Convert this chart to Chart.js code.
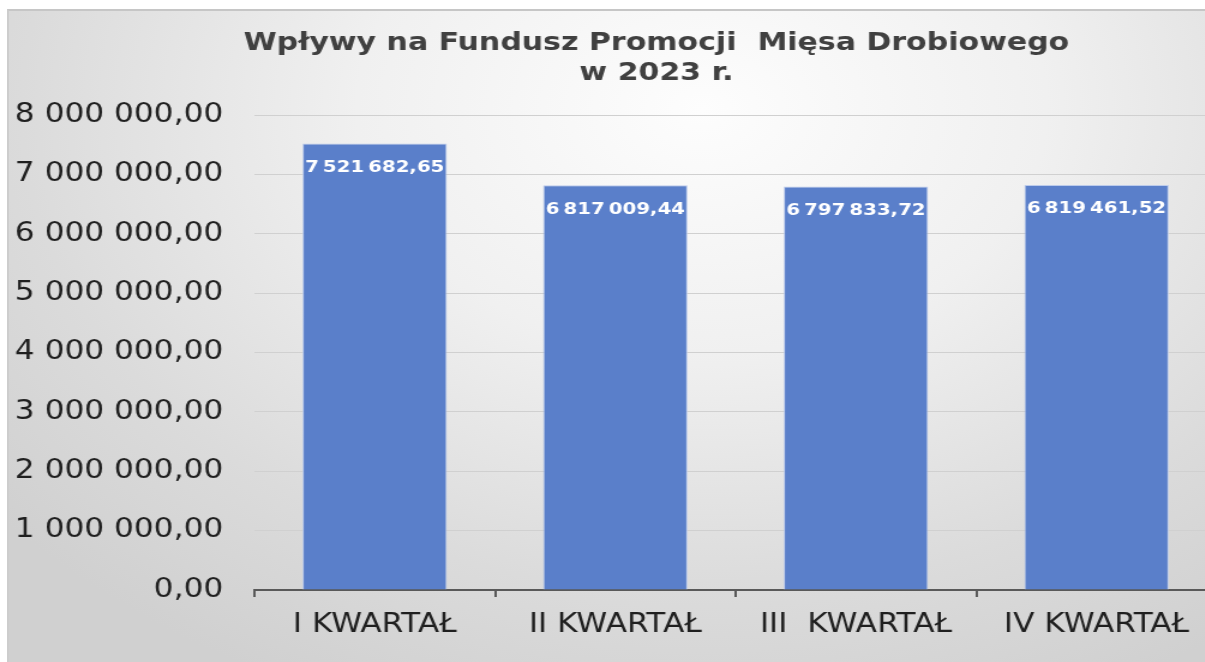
<!DOCTYPE html>
<html>
<head>
<meta charset="utf-8">
<script src="https://cdn.jsdelivr.net/npm/chart.js@4/dist/chart.umd.min.js"></script>
<style>
  html, body { margin: 0; padding: 0; width: 1205px; height: 662px; overflow: hidden; background: #ffffff; }
  #bg {
    position: absolute; left: 7px; top: 9px; width: 1260px; height: 700px;
    border-top: 2px solid #c6c6c6; border-left: 2px solid #cdcdcd;
    background: radial-gradient(ellipse 72% 92% at 55% 14%, #fdfdfd 0%, #f0f0f0 38%, #dbdbdb 75%, #d0d0d0 100%);
  }
  #wrap {
    position: absolute; left: 0; top: 0; width: 1094px; height: 662px;
    transform: scaleX(1.2); transform-origin: 0 0;
  }
</style>
</head>
<body>
<div id="bg"></div>
<div id="wrap"><canvas id="c" width="1094" height="662"></canvas></div>
<script>
const categories = ["I KWARTAŁ", "II KWARTAŁ", "III  KWARTAŁ", "IV KWARTAŁ"];
const values = [7521682.65, 6817009.44, 6797833.72, 6819461.52];
const titleLines = ["Wpływy na Fundusz Promocji  Mięsa Drobiowego", "w 2023 r."];
const yTicks = [0, 1000000, 2000000, 3000000, 4000000, 5000000, 6000000, 7000000, 8000000];

function fmt(v, sep) {
  const parts = v.toFixed(2).split('.');
  return parts[0].replace(/\B(?=(\d{3})+(?!\d))/g, sep || ' ') + ',' + parts[1];
}

const valueLabels = {
  id: 'valueLabels',
  afterDatasetsDraw(chart) {
    const ctx = chart.ctx;
    const meta = chart.getDatasetMeta(0);
    const data = chart.data.datasets[0].data;
    ctx.save();
    ctx.fillStyle = '#ffffff';
    ctx.font = 'bold 16.5px "DejaVu Sans"';
    ctx.textAlign = 'center';
    ctx.textBaseline = 'middle';
    meta.data.forEach((bar, i) => {
      ctx.fillText(fmt(data[i], '\u202F'), bar.x, bar.y + 24);
    });
    ctx.restore();
  }
};

new Chart(document.getElementById('c'), {
  type: 'bar',
  data: {
    labels: categories,
    datasets: [{
      data: values,
      yAxisID: 'y',
      backgroundColor: '#5a7fca',
      borderColor: '#bccbeb',
      borderWidth: 1,
      barPercentage: 0.6,
      categoryPercentage: 1.0
    }]
  },
  options: {
    responsive: false,
    animation: false,
    layout: { padding: 0 },
    plugins: {
      legend: { display: false },
      tooltip: { enabled: false },
      title: {
        display: true,
        text: titleLines,
        color: '#404040',
        font: { family: '"DejaVu Sans"', size: 25, weight: 'bold', lineHeight: 1.2 },
        padding: { top: 28, bottom: 27 }
      }
    },
    scales: {
      x: {
        grid: { display: true, drawOnChartArea: false, drawTicks: true, tickLength: 7, color: '#595959', lineWidth: 2, offset: true },
        border: { display: true, color: '#595959', width: 2 },
        ticks: { color: '#1f1f1f', padding: 13, font: { family: '"DejaVu Sans"', size: 26 }, maxRotation: 0, autoSkip: false },
        afterFit(scale) { scale.height = 72; }
      },
      y: {
        position: 'left',
        min: 0,
        max: 8000000,
        afterBuildTicks(scale) { scale.ticks = yTicks.map(v => ({ value: v })); },
        grid: { color: '#d0d0d0', lineWidth: 1, drawTicks: false },
        border: { display: false },
        ticks: {
          color: '#1f1f1f',
          padding: 26,
          font: { family: '"DejaVu Sans"', size: 26 },
          callback: (v) => fmt(v)
        },
        afterFit(scale) { scale.width = 212; }
      },
      spacer: {
        position: 'right',
        display: true,
        grid: { display: false, drawTicks: false },
        border: { display: false },
        ticks: { display: false },
        afterFit(scale) { scale.width = 80; }
      }
    }
  },
  plugins: [valueLabels]
});
</script>
</body>
</html>
